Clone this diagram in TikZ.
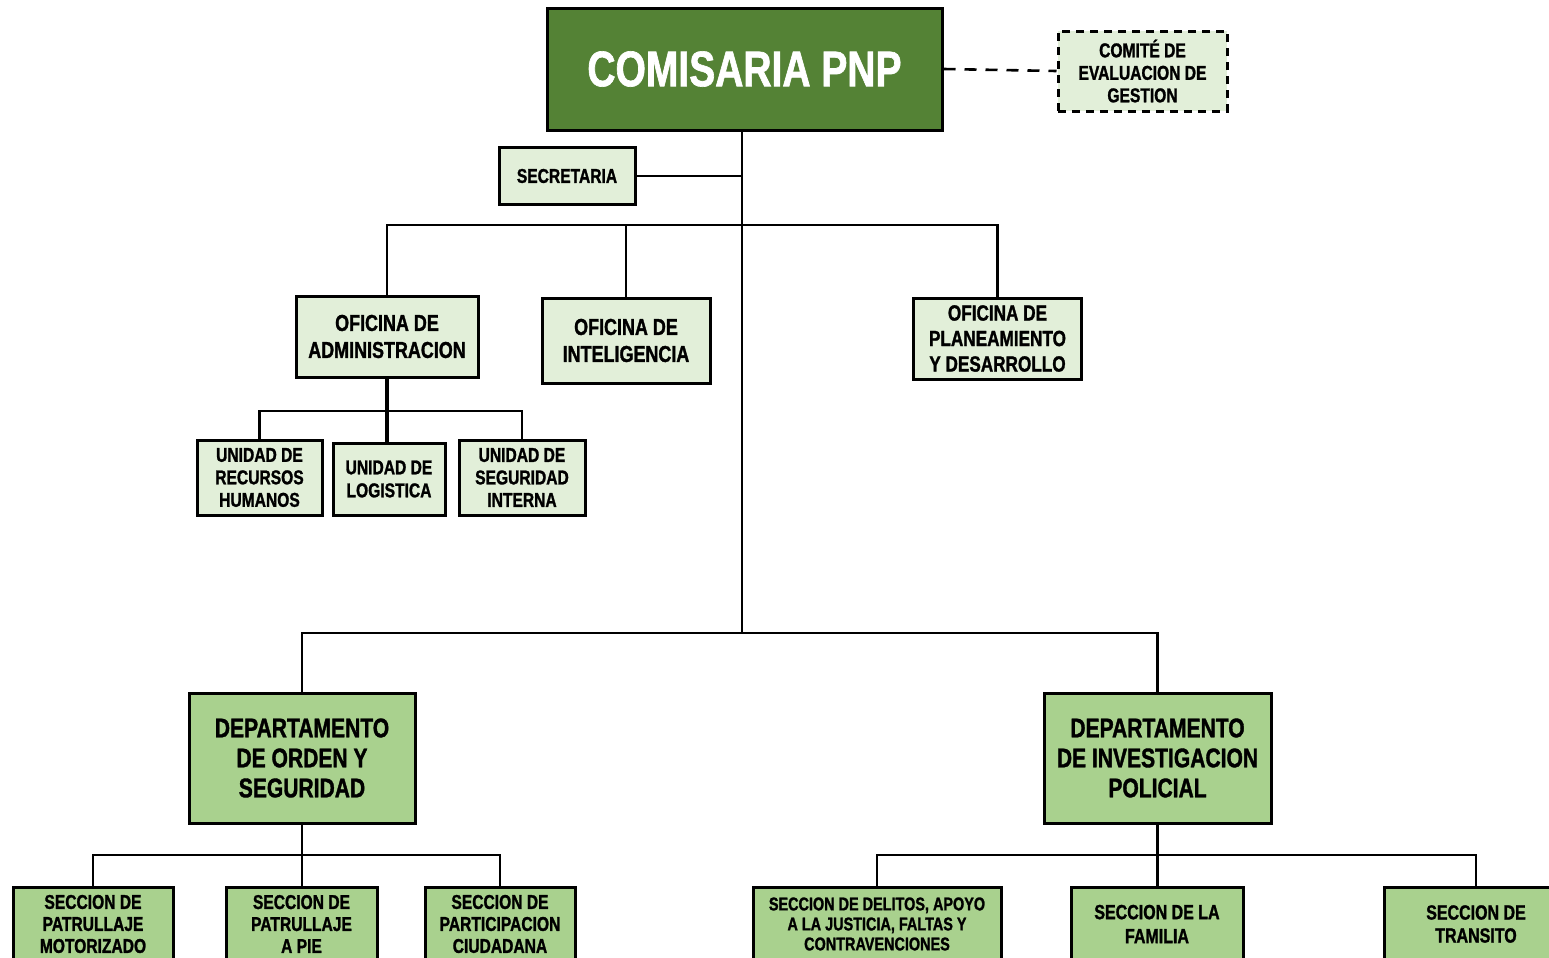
\documentclass[tikz,border=0pt]{standalone}
\usepackage{fontspec}
\newfontfamily\cf[FakeStretch=0.78, BoldFeatures={FakeBold=1.3}]{Liberation Sans}
\definecolor{dkgreen}{HTML}{548235}
\definecolor{ltgreen}{HTML}{E2EFD9}
\definecolor{mdgreen}{HTML}{A9D18E}
\begin{document}
\begin{tikzpicture}[x=0.5pt,y=-0.5pt,
  box/.style={draw=black, line width=1.5pt, inner sep=0pt, align=center, text=black},
  light/.style={box, fill=ltgreen},
  medium/.style={box, fill=mdgreen},
  conn/.style={draw=black, line width=1.3pt},
  fs/.style 2 args={font=\cf\bfseries\fontsize{#1}{#2}\selectfont}]
\useasboundingbox (0,0) rectangle (1549,958);
\clip (0,0) rectangle (1549,958);

% top level
\node[box, fill=dkgreen, text=white, minimum width=197.5pt, minimum height=61pt, fs={25}{28}] (top) at (744.5,69) {COMISARIA PNP};
\node[light, dashed, dash pattern=on 4pt off 3pt, minimum width=84.5pt, minimum height=40pt, fs={10}{11.25}] (comite) at (1142.5,71) {COMITÉ DE\\EVALUACION DE\\GESTION};
\node[light, minimum width=68pt, minimum height=28.5pt, fs={10}{11}] (secr) at (567,176) {SECRETARIA};

% offices
\node[light, minimum width=91pt, minimum height=40.5pt, fs={11.5}{13.5}] (admin) at (387,336.5) {OFICINA DE\\ADMINISTRACION};
\node[light, minimum width=84pt, minimum height=42.5pt, fs={11.5}{13.5}] (intel) at (626,340.5) {OFICINA DE\\INTELIGENCIA};
\node[light, minimum width=84pt, minimum height=40.5pt, fs={11}{12.75}] (plan) at (997.5,338.5) {OFICINA DE\\PLANEAMIENTO\\Y DESARROLLO};

% units
\node[light, minimum width=62.5pt, minimum height=37.5pt, fs={10}{11.25}] (rrhh) at (259.5,477.5) {UNIDAD DE\\RECURSOS\\HUMANOS};
\node[light, minimum width=56pt, minimum height=36pt, fs={10}{11.5}] (logi) at (389,479) {UNIDAD DE\\LOGISTICA};
\node[light, minimum width=63pt, minimum height=37.5pt, fs={10}{11.25}] (segi) at (522,477.5) {UNIDAD DE\\SEGURIDAD\\INTERNA};

% departments
\node[medium, minimum width=113pt, minimum height=65pt, fs={13.5}{15}] (orden) at (302,758) {DEPARTAMENTO\\DE ORDEN Y\\SEGURIDAD};
\node[medium, minimum width=113.5pt, minimum height=65pt, fs={13.5}{15}] (inv) at (1157.5,758) {DEPARTAMENTO\\DE INVESTIGACION\\POLICIAL};

% sections
\node[medium, minimum width=80pt, minimum height=37pt, fs={10}{11}] (moto) at (93,924) {SECCION DE\\PATRULLAJE\\MOTORIZADO};
\node[medium, minimum width=75.5pt, minimum height=37pt, fs={10}{11}] (apie) at (301.5,924) {SECCION DE\\PATRULLAJE\\A PIE};
\node[medium, minimum width=75pt, minimum height=37pt, fs={10}{11}] (part) at (500,924) {SECCION DE\\PARTICIPACION\\CIUDADANA};
\node[medium, minimum width=124pt, minimum height=37pt, fs={9.25}{10}] (delitos) at (877,924) {SECCION DE DELITOS, APOYO\\A LA JUSTICIA, FALTAS Y\\CONTRAVENCIONES};
\node[medium, minimum width=86pt, minimum height=37pt, fs={10.25}{12}] (familia) at (1157,924) {SECCION DE LA\\FAMILIA};
\node[medium, minimum width=92pt, minimum height=37pt, fs={10.25}{11.5}] (transito) at (1476,924) {SECCION DE\\TRANSITO};

% junction coordinates
\coordinate (t1) at (742,177);
\coordinate (t2) at (742,225);
\coordinate (t3) at (742,633);
\coordinate (a1) at (388,411);
\coordinate (o1) at (302,855);
\coordinate (i1) at (1157,855);

% connectors
\draw[conn] (t1 |- top.south) -- (t3);
\draw[conn, dashed, dash pattern=on 6pt off 4.5pt] (top.east) -- (comite.west);
\draw[conn] (secr.east) -- (secr.east -| t1);
\draw[conn] (admin.north) |- (t2) -| (plan.north);
\draw[conn] (intel.north) -- (intel.north |- t2);
\draw[conn, line width=2pt] (admin.south) -- (admin.south |- logi.north);
\draw[conn] (rrhh.north) |- (a1) -| (segi.north);
\draw[conn] (orden.north) |- (t3) -| (inv.north);
\draw[conn] (orden.south) -- (orden.south |- apie.north);
\draw[conn] (moto.north) |- (o1) -| (part.north);
\draw[conn] (inv.south) -- (inv.south |- familia.north);
\draw[conn] (delitos.north) |- (i1) -| (transito.north);
\end{tikzpicture}
\end{document}
